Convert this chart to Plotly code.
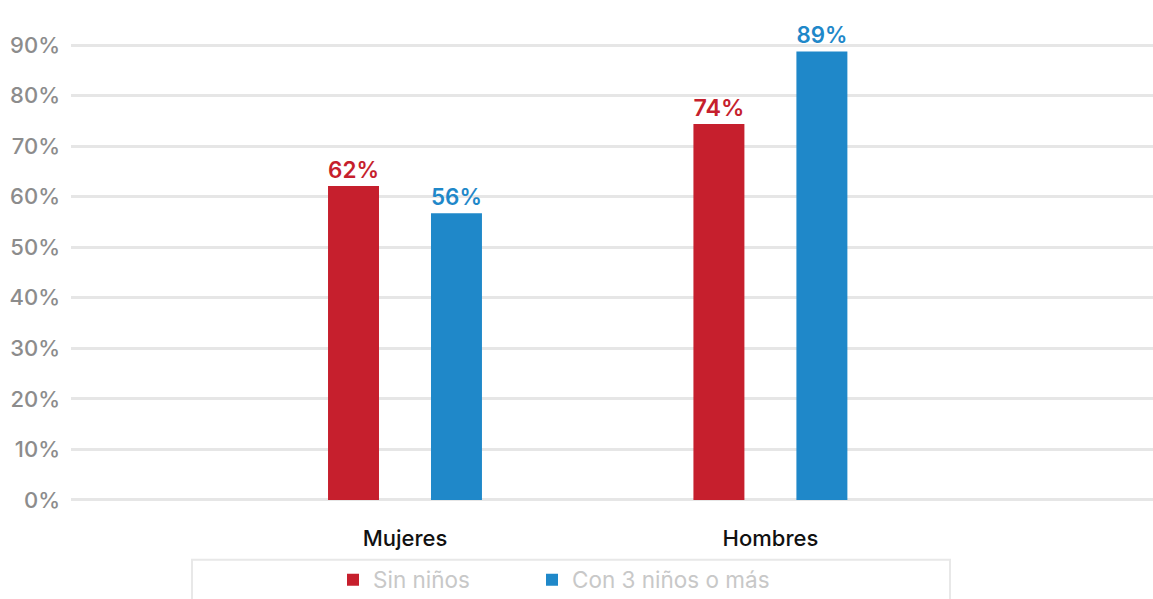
import plotly.graph_objects as go

categories = ["Mujeres", "Hombres"]
series_names = ["Sin niños", "Con 3 niños o más"]
sin_ninos = [62.1, 74.4]
con_3_ninos = [56.7, 88.7]
sin_ninos_labels = ["62%", "74%"]
con_3_ninos_labels = ["56%", "89%"]
y_ticks = [0, 10, 20, 30, 40, 50, 60, 70, 80, 90]
y_tick_labels = ["0%", "10%", "20%", "30%", "40%", "50%", "60%", "70%", "80%", "90%"]

RED = "#c61f2d"
BLUE = "#1f88c9"
FONT = "Inter, Roboto, sans-serif"

fig = go.Figure()
fig.add_trace(go.Bar(
    x=categories, y=sin_ninos, name=series_names[0],
    marker=dict(color=RED, line=dict(width=0)),
    text=sin_ninos_labels, textposition="outside",
    textfont=dict(color=RED, size=26, family=FONT, weight=600),
    cliponaxis=False, legend="legend",
))
fig.add_trace(go.Bar(
    x=categories, y=con_3_ninos, name=series_names[1],
    marker=dict(color=BLUE, line=dict(width=0)),
    text=con_3_ninos_labels, textposition="outside",
    textfont=dict(color=BLUE, size=26, family=FONT, weight=600),
    cliponaxis=False, legend="legend2",
))

legend_common = dict(
    orientation="h", xref="container", yref="container",
    yanchor="middle", y=0.0317, xanchor="left",
    font=dict(color="#c8c8c8", size=22.5, family=FONT),
    bgcolor="rgba(0,0,0,0)", borderwidth=0,
)

fig.update_layout(
    width=1153, height=599,
    margin=dict(l=71, r=0, t=43, b=97),
    paper_bgcolor="white", plot_bgcolor="white",
    barmode="group", bargap=0.4364, bargroupgap=0.505,
    font=dict(family=FONT),
    showlegend=True,
    legend=dict(legend_common, x=333 / 1153),
    legend2=dict(legend_common, x=532 / 1153),
    shapes=[dict(
        type="rect", xref="paper", yref="paper",
        x0=0.1118, x1=0.8124, y0=-0.215, y1=-0.126,
        line=dict(color="#e8e8e8", width=2), fillcolor="rgba(0,0,0,0)",
        layer="below",
    )],
)
fig.update_xaxes(
    range=[-0.914, 2.047], showgrid=False, zeroline=False, showline=False,
    ticks="", ticklabelstandoff=21,
    tickfont=dict(color="#111111", size=22, family=FONT, weight=500),
)
fig.update_yaxes(
    range=[-0.4, 90.4], tickvals=y_ticks, ticktext=y_tick_labels,
    showgrid=True, gridcolor="#e6e6e6", gridwidth=3,
    zeroline=False, showline=False, ticks="", ticklabelstandoff=10,
    tickfont=dict(color="#8c8c8c", size=22, family=FONT, weight=500),
)

fig.write_html("out.html")
